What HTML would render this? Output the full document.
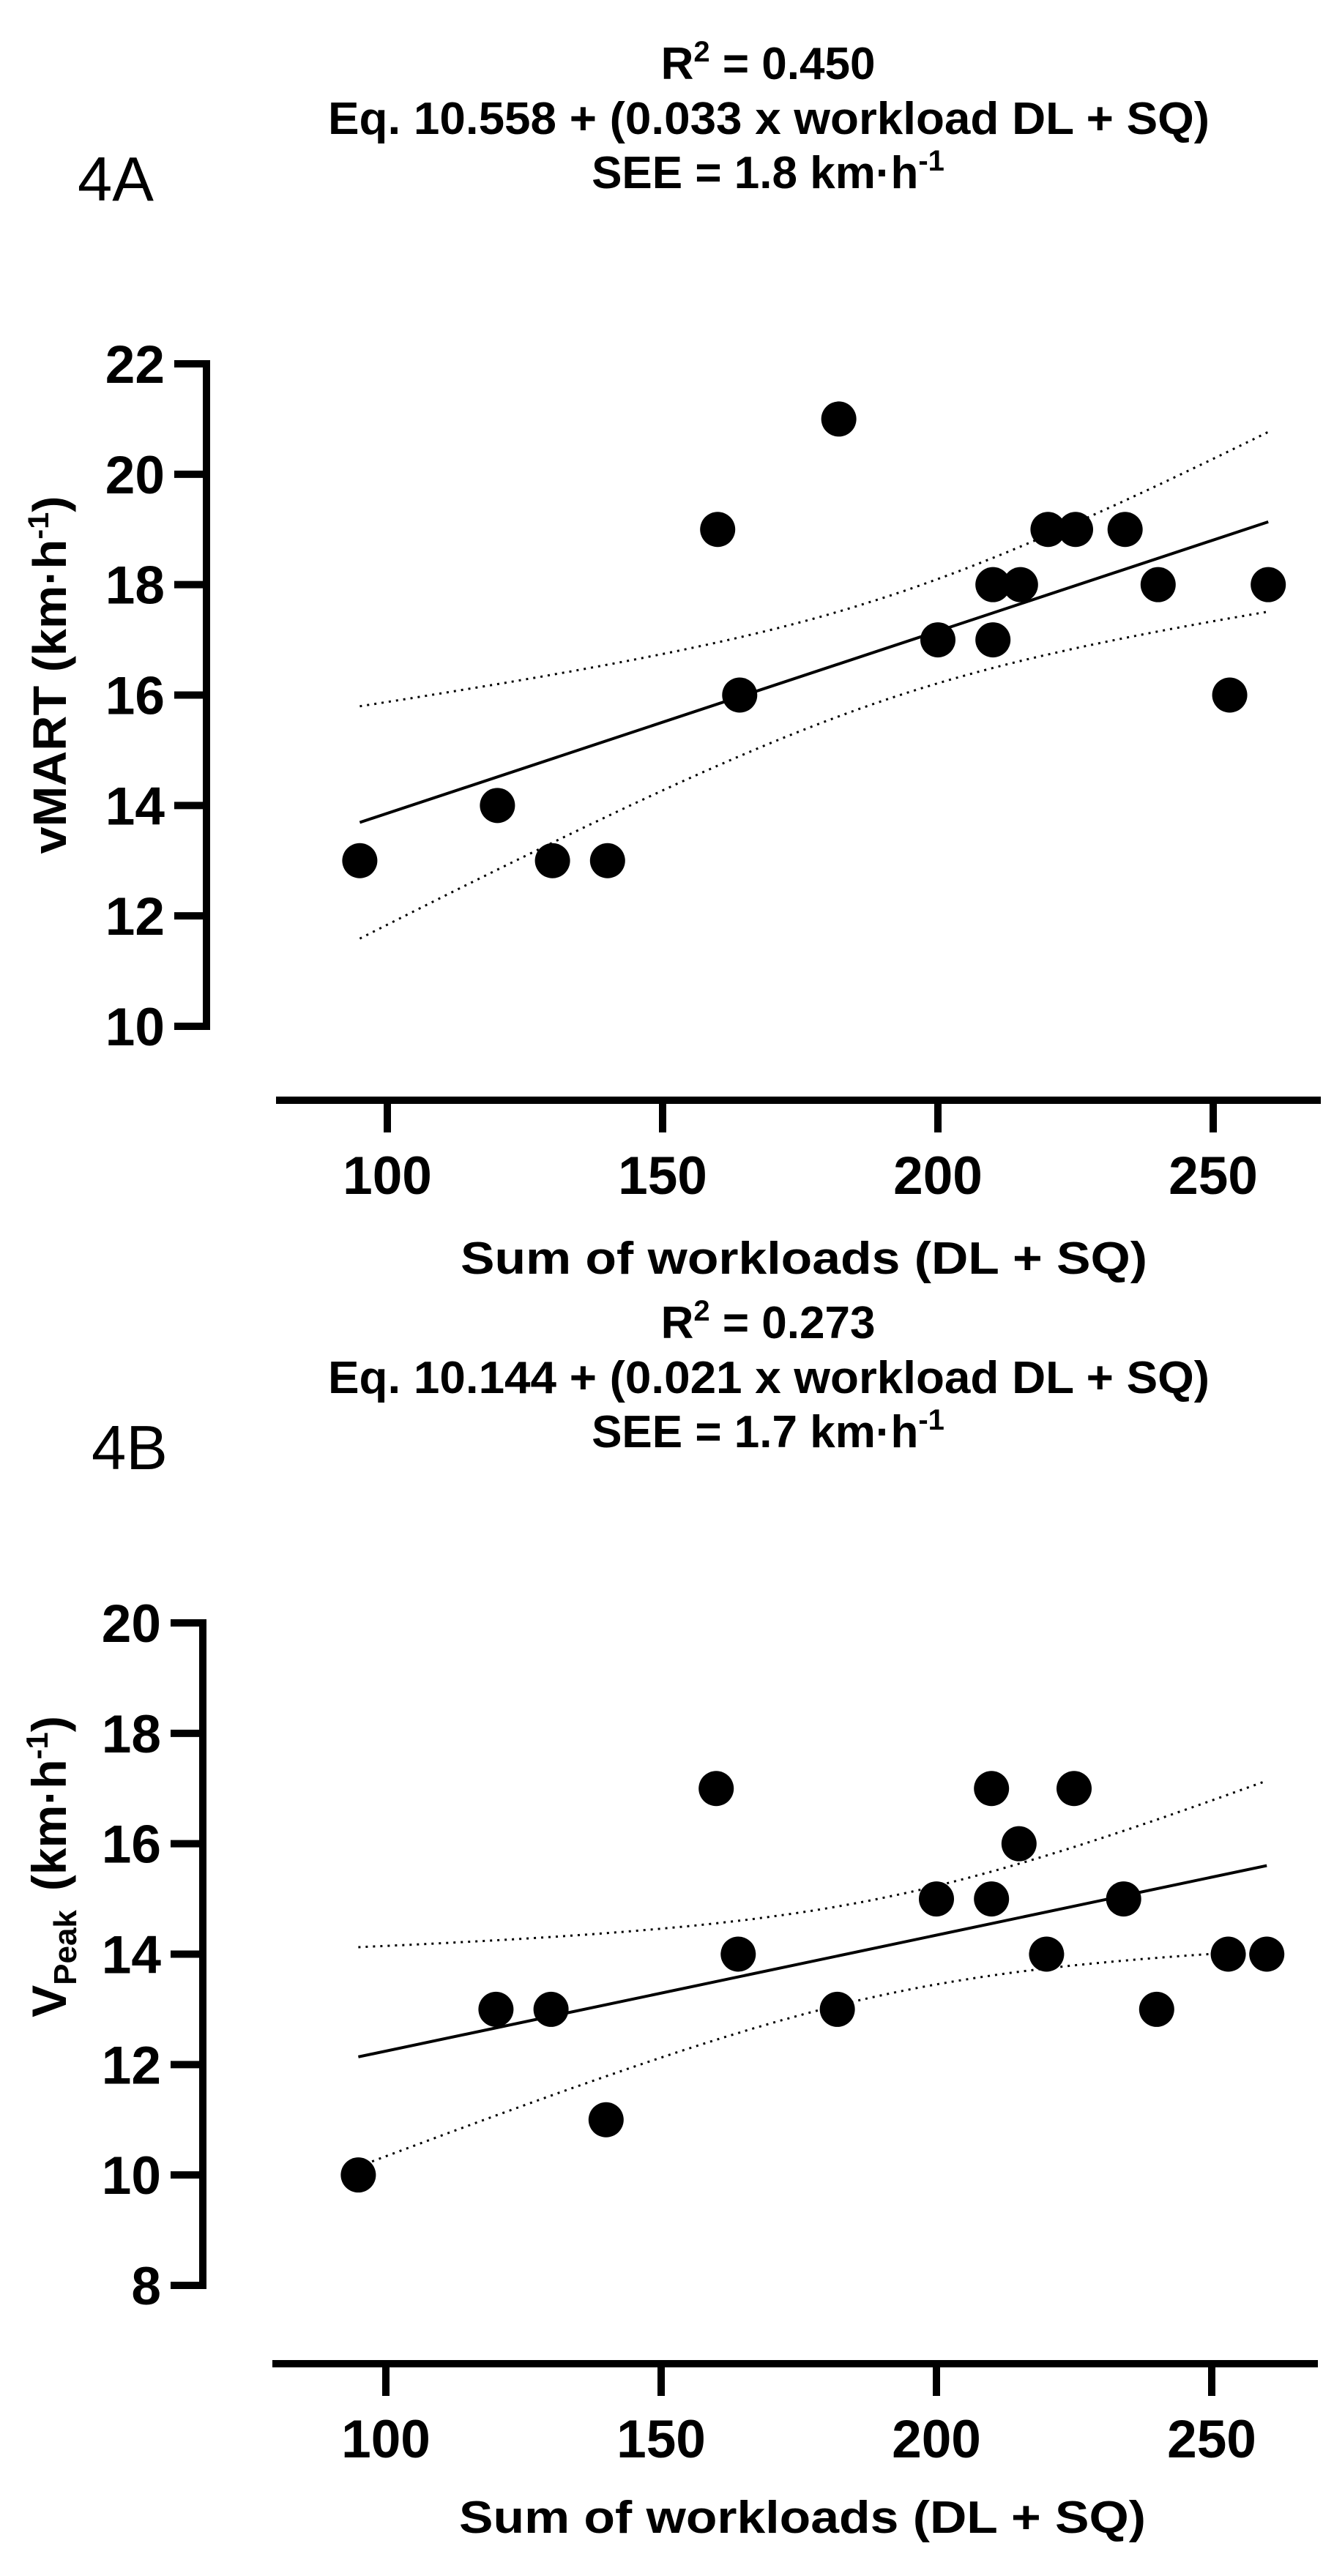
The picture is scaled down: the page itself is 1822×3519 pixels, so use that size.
<!DOCTYPE html>
<html><head><meta charset="utf-8"><style>
html,body{margin:0;padding:0;background:#fff;}
svg{display:block;font-family:"Liberation Sans",Arial,sans-serif;}
</style></head><body>
<svg id="fig" width="1822" height="3519" viewBox="0 0 1822 3519" xmlns="http://www.w3.org/2000/svg">
<g>
<text x="106" y="274" font-size="85">4A</text>
<text x="1049" y="108" font-size="62" font-weight="bold" text-anchor="middle">R<tspan font-size="40" dy="-24">2</tspan><tspan dy="24"> = 0.450</tspan></text>
<text x="1050" y="183" font-size="62" font-weight="bold" text-anchor="middle" textLength="1204" lengthAdjust="spacingAndGlyphs">Eq. 10.558 + (0.033 x workload DL + SQ)</text>
<text x="1049" y="257" font-size="62" font-weight="bold" text-anchor="middle">SEE = 1.8 km·h<tspan font-size="40" dy="-24">-1</tspan></text>
<text x="1098" y="1740" font-size="62" font-weight="bold" text-anchor="middle" textLength="938" lengthAdjust="spacingAndGlyphs">Sum of workloads (DL + SQ)</text>
<text transform="translate(90,922) rotate(-90)" x="0" y="0" font-size="64" font-weight="bold" text-anchor="middle" textLength="489" lengthAdjust="spacingAndGlyphs">vMART (km·h<tspan font-size="40" dy="-24">-1</tspan><tspan dy="24">)</tspan></text>
<g id="plotA"></g>
</g>
<g>
<text x="125" y="2007" font-size="85">4B</text>
<text x="1049" y="1828" font-size="62" font-weight="bold" text-anchor="middle">R<tspan font-size="40" dy="-24">2</tspan><tspan dy="24"> = 0.273</tspan></text>
<text x="1050" y="1903" font-size="62" font-weight="bold" text-anchor="middle" textLength="1204" lengthAdjust="spacingAndGlyphs">Eq. 10.144 + (0.021 x workload DL + SQ)</text>
<text x="1049" y="1977" font-size="62" font-weight="bold" text-anchor="middle">SEE = 1.7 km·h<tspan font-size="40" dy="-24">-1</tspan></text>
<text x="1096" y="3460" font-size="62" font-weight="bold" text-anchor="middle" textLength="938" lengthAdjust="spacingAndGlyphs">Sum of workloads (DL + SQ)</text>
<text transform="translate(90,2550) rotate(-90)" x="0" y="0" font-size="66" font-weight="bold" text-anchor="middle">V<tspan font-size="44" dy="14">Peak</tspan><tspan dy="-14" dx="26">(km·h</tspan><tspan font-size="42" dy="-25">-1</tspan><tspan dy="25">)</tspan></text>
<g id="plotB"></g>
</g>
</svg>
<script>
// Shared x data (sum of workloads DL + SQ)
const workloads = [95,120,130,140,160,164,182,200,210,210,215,220,225,234,240,253,260];
// Panel A: vMART (km/h)
const vmart = [13,14,13,13,19,16,21,17,18,17,18,19,19,19,18,16,18];
// Panel B: VPeak (km/h)
const vpeak = [10,13,13,11,17,14,13,15,17,15,16,14,17,15,13,14,14];
const xTicks = [100,150,200,250];
const yTicksA = [10,12,14,16,18,20,22];
const yTicksB = [8,10,12,14,16,18,20];
const fitA = [10.558, 0.033];
const fitB = [10.144, 0.021];
const seeA = 1.8;
const seeB = 1.7;

const NS = "http://www.w3.org/2000/svg";
function mk(tag, attrs, parent){
  const e = document.createElementNS(NS, tag);
  for (const k in attrs) e.setAttribute(k, attrs[k]);
  parent.appendChild(e);
  return e;
}

function drawPanel(g, xs, ys, yTicks, fit, see, cfg){
  const xScale = v => cfg.x100 + (v - 100) * 7.52;
  const yMin = yTicks[0], yMax = yTicks[yTicks.length-1];
  const yScale = v => cfg.yBottom - (v - yMin) * (cfg.yBottom - cfg.yTop) / (yMax - yMin);

  const ya = mk('line', {x1:cfg.yAxisX, x2:cfg.yAxisX, y1:yScale(yMax)-5, y2:yScale(yMin)+5, stroke:'#000','stroke-width':10}, g);
  
  
  yTicks.forEach(t => {
    const y = yScale(t);
    const tk = mk('line', {x1:cfg.yAxisX-44, x2:cfg.yAxisX, y1:y, y2:y, stroke:'#000','stroke-width':10}, g);
    
    
    const lb = mk('text', {x:cfg.yAxisX-57, y:y+26, 'font-size':73, 'font-weight':'bold', 'text-anchor':'end'}, g);
    lb.textContent = t;
    
    
  });

  const xa = mk('line', {x1:cfg.xStart, x2:cfg.xEnd, y1:cfg.xAxisY, y2:cfg.xAxisY, stroke:'#000','stroke-width':10}, g);
  
  
  xTicks.forEach(t => {
    const x = xScale(t);
    const tk = mk('line', {x1:x, x2:x, y1:cfg.xAxisY, y2:cfg.xAxisY+44, stroke:'#000','stroke-width':10}, g);
    
    
    const lb = mk('text', {x:x, y:cfg.xAxisY+128, 'font-size':73, 'font-weight':'bold', 'text-anchor':'middle'}, g);
    lb.textContent = t;
    
    
  });

  const n = xs.length;
  const mean = xs.reduce((a,b)=>a+b,0)/n;
  const sxx = xs.reduce((a,b)=>a+(b-mean)*(b-mean),0);
  const tcrit = 2.131;
  const x0 = Math.min(...xs), x1 = Math.max(...xs);
  const pred = v => fit[0] + fit[1]*v;
  const reg = mk('line', {x1:xScale(x0), y1:yScale(pred(x0)), x2:xScale(x1), y2:yScale(pred(x1)), stroke:'#000','stroke-width':4}, g);
  
  
  let up = '', lo = '';
  for (let i = 0; i <= 60; i++){
    const v = x0 + (x1 - x0) * i / 60;
    const hw = tcrit * see * Math.sqrt(1/n + (v-mean)*(v-mean)/sxx);
    up += (i ? 'L' : 'M') + xScale(v).toFixed(1) + ' ' + yScale(pred(v)+hw).toFixed(1);
    lo += (i ? 'L' : 'M') + xScale(v).toFixed(1) + ' ' + yScale(pred(v)-hw).toFixed(1);
  }
  const cu = mk('path', {d:up, fill:'none', stroke:'#000','stroke-width':3,'stroke-dasharray':'3 7'}, g);
  
  
  const cl = mk('path', {d:lo, fill:'none', stroke:'#000','stroke-width':3,'stroke-dasharray':'3 7'}, g);
  
  

  xs.forEach((v, i) => {
    const c = mk('circle', {cx:xScale(v), cy:yScale(ys[i]), r:24, fill:'#000'}, g);
    
    
  });
}

drawPanel(document.getElementById('plotA'), workloads, vmart, yTicksA, fitA, seeA,
  {x100:529, yTop:497, yBottom:1402, yAxisX:282, xAxisY:1503, xStart:377, xEnd:1804});
drawPanel(document.getElementById('plotB'), workloads, vpeak, yTicksB, fitB, seeB,
  {x100:527, yTop:2217, yBottom:3122, yAxisX:277, xAxisY:3229, xStart:372, xEnd:1800});
</script>
</body></html>
